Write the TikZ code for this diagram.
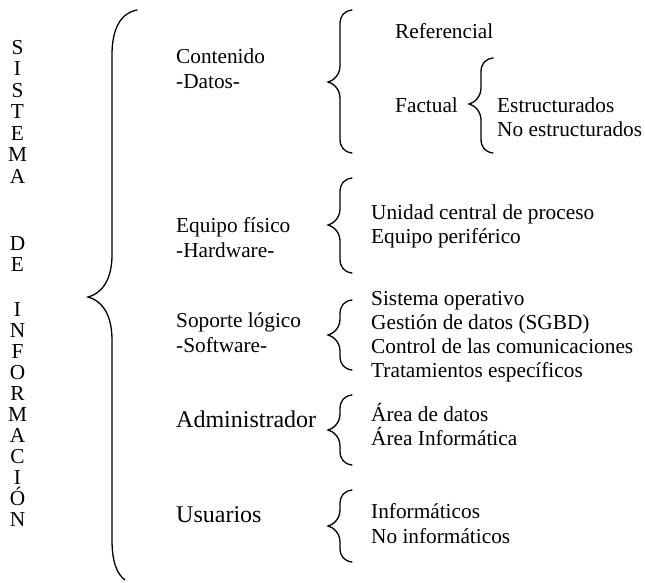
\documentclass[tikz,border=0pt]{standalone}
\usepackage{fontspec}
\setmainfont{Liberation Serif}
\tikzset{
  texto/.style={anchor=base west, inner sep=0pt, font=\fontsize{21.3}{25}\selectfont},
  grande/.style={texto, font=\fontsize{24}{28}\selectfont},
  letra/.style={anchor=base, inner sep=0pt, font=\fontsize{21.3}{25}\selectfont},
  trazo/.style={line width=1.3pt, line cap=round}
}
% llave: x de la punta, y arriba, y de la punta, y abajo
\newcommand{\llave}[4]{%
  \draw[trazo] (#1+24,#2) .. controls +(-8,1) and +(0,-8) .. (#1+12,#2+14)
    -- (#1+12,#3-16) .. controls +(0,9) and +(5,-1) .. (#1,#3)
    .. controls +(5,1) and +(0,-9) .. (#1+12,#3+16)
    -- (#1+12,#4-14) .. controls +(0,8) and +(-8,-1) .. (#1+24,#4);}
\begin{document}
\begin{tikzpicture}[x=1pt,y=-1pt]
\useasboundingbox (0,0) rectangle (645,582);
% columna vertical
\foreach \l [count=\i from 0] in {S,I,S,T,E,M,A}
  {\node[letra] (s\i) at (17.5,54+21.5*\i) {\l};}
\foreach \l [count=\i from 0] in {D,E}
  {\node[letra] (d\i) at (17.5,250+21.5*\i) {\l};}
\foreach \l [count=\i from 0] in {I,N,F,O,R,M,A,C,I,Ó,N}
  {\node[letra] (n\i) at (17.5,316+21*\i) {\l};}
% llave grande
\draw[trazo] (137,10) .. controls (121,13) and (112,28) .. (112,55)
  -- (112,255) .. controls (112,282) and (100,294) .. (88,297)
  .. controls (100,300) and (112,312) .. (112,340)
  -- (112,540) .. controls (112,562) and (117,574) .. (125,580);
% primer nivel
\node[texto] (cont) at (176,63) {Contenido};
\node[texto] (dat) at (176,88) {-Datos-};
\node[texto] (equi) at (176,232) {Equipo físico};
\node[texto] (hard) at (176,257) {-Hardware-};
\node[texto] (sop) at (176,327) {Soporte lógico};
\node[texto] (soft) at (176,352) {-Software-};
\node[grande] (adm) at (176,427) {Administrador};
\node[grande] (usu) at (176,522) {Usuarios};
% segundo nivel
\llave{328}{10}{82}{153}
\node[texto] (ref) at (395,38) {Referencial};
\node[texto] (fact) at (395,112) {Factual};
\llave{469}{58}{104}{153}
\node[texto] (est) at (497,112) {Estructurados};
\node[texto] (noest) at (497,136) {No estructurados};
\llave{328}{178}{225}{273}
\node[texto] (ucp) at (371,219) {Unidad central de proceso};
\node[texto] (per) at (371,243) {Equipo periférico};
\llave{328}{300}{335}{370}
\node[texto] (so) at (371,305) {Sistema operativo};
\node[texto] (sgbd) at (371,329) {Gestión de datos (SGBD)};
\node[texto] (com) at (371,353) {Control de las comunicaciones};
\node[texto] (trat) at (371,377) {Tratamientos específicos};
\llave{328}{395}{430}{465}
\node[texto] (adat) at (371,421) {Área de datos};
\node[texto] (ainf) at (371,445) {Área Informática};
\llave{328}{490}{526}{562}
\node[texto] (inf) at (371,518) {Informáticos};
\node[texto] (noinf) at (371,543) {No informáticos};
\end{tikzpicture}
\end{document}
